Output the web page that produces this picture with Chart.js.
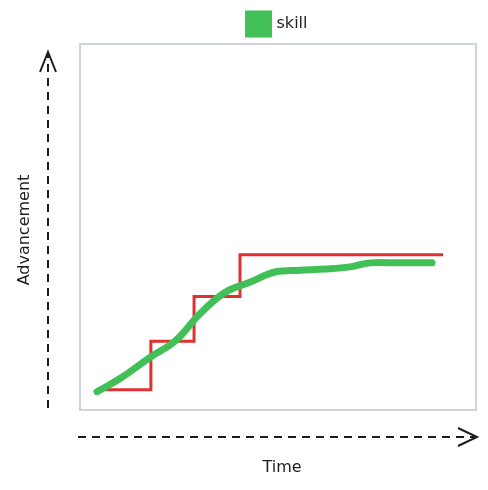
<!DOCTYPE html>
<html>
<head>
<script src="https://cdn.jsdelivr.net/npm/chart.js@4"></script>
<style>body{margin:0;background:#fff}#wrap{width:488px;height:490px}</style>
</head>
<body>
<div id="wrap"><canvas id="c"></canvas></div>
<script>
const stepX = [4.3, 17.9, 17.9, 28.8, 28.8, 40.4, 40.4, 91.7];
const stepY = [5.5, 5.5, 18.8, 18.8, 31, 31, 42.4, 42.4];
const skillX = [4.3, 10.1, 17.7, 24, 30.3, 36.6, 42.9, 49.2, 55.6, 61.9, 68.2, 73.2, 80.8, 88.9];
const skillY = [5, 8.6, 14.4, 18.8, 26.3, 32.1, 34.9, 37.7, 38.2, 38.5, 39.1, 40.2, 40.2, 40.2];

const font = "'Comic Sans MS', 'DejaVu Sans', sans-serif";

// frame, dashed axis arrows and axis titles
const sketch = {
    id: "sketch",
    beforeDatasetsDraw(chart) {
        const { ctx, chartArea: a } = chart;
        ctx.save();
        ctx.strokeStyle = "#ced4da";
        ctx.lineWidth = 2;
        ctx.strokeRect(a.left, a.top, a.right - a.left, a.bottom - a.top);
        ctx.restore();
    },
    afterDraw(chart) {
        const { ctx } = chart;
        ctx.save();
        ctx.strokeStyle = "#1e1e1e";
        ctx.lineWidth = 2;
        ctx.setLineDash([8, 6]);
        ctx.beginPath();
        ctx.moveTo(48, 408); ctx.lineTo(48, 54);
        ctx.moveTo(78, 437); ctx.lineTo(476, 437);
        ctx.stroke();
        ctx.setLineDash([]);
        ctx.beginPath();
        ctx.moveTo(40, 72); ctx.lineTo(48, 52); ctx.lineTo(56, 72);
        ctx.moveTo(458, 428); ctx.lineTo(477, 437); ctx.lineTo(458, 446);
        ctx.stroke();
        ctx.fillStyle = "#1e1e1e";
        ctx.font = "16px " + font;
        ctx.textAlign = "center";
        ctx.textBaseline = "middle";
        ctx.fillText("Time", 282, 468);
        ctx.translate(25, 230);
        ctx.rotate(-Math.PI / 2);
        ctx.fillText("Advancement", 0, 0);
        ctx.restore();
    }
};

new Chart(document.getElementById("c"), {
    type: "line",
    data: {
        datasets: [
            {
                label: "skill",
                data: skillX.map((x, i) => ({ x, y: skillY[i] })),
                borderColor: "#40c057",
                backgroundColor: "#40c057",
                borderWidth: 7,
                tension: 0.4,
                pointRadius: 0,
                borderCapStyle: "round"
            },
            {
                label: "level",
                data: stepX.map((x, i) => ({ x, y: stepY[i] })),
                borderColor: "#e03131",
                borderWidth: 3,
                pointRadius: 0
            }
        ]
    },
    options: {
        responsive: true,
        maintainAspectRatio: false,
        animation: false,
        layout: { padding: { left: 80, right: 12, bottom: 80, top: 0 } },
        scales: {
            x: { type: "linear", min: 0, max: 100, display: false },
            y: { min: 0, max: 100, display: false }
        },
        plugins: {
            legend: {
                labels: {
                    filter: item => item.text === "skill",
                    boxWidth: 20, boxHeight: 20,
                    color: "#1e1e1e",
                    font: { family: font, size: 16 },
                    padding: 14
                }
            },
            tooltip: { enabled: false }
        }
    },
    plugins: [sketch]
});
</script>
</body>
</html>
